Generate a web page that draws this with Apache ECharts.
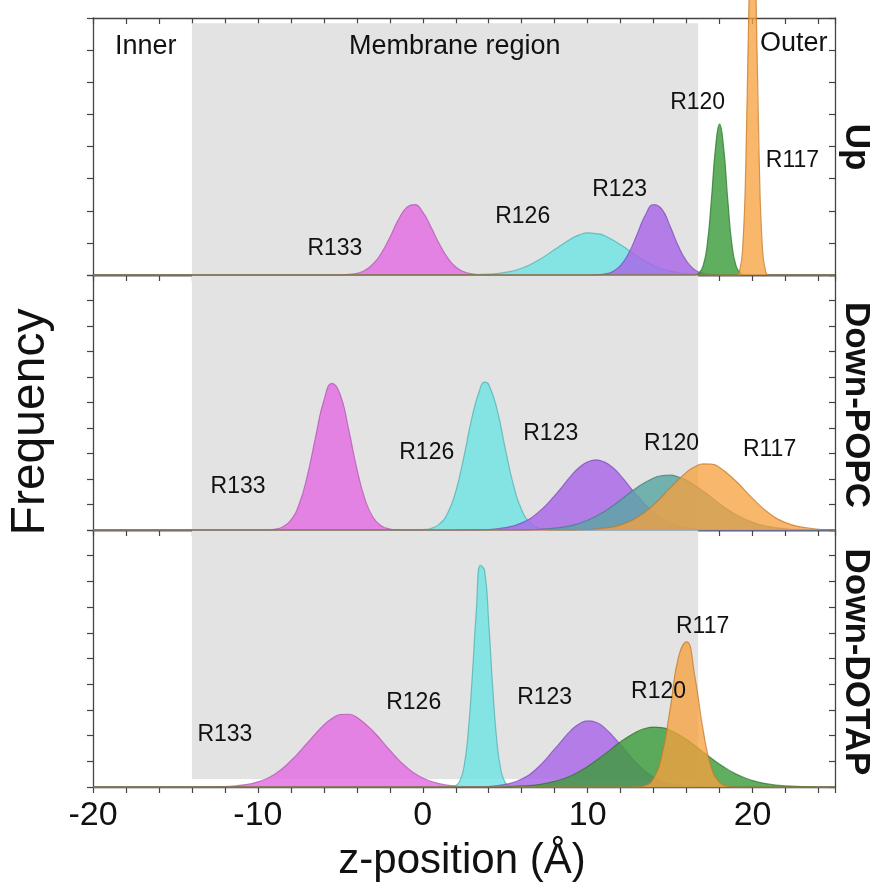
<!DOCTYPE html>
<html><head><meta charset="utf-8">
<script src="https://cdn.jsdelivr.net/npm/echarts@6/dist/echarts.min.js"></script>
<style>html,body{margin:0;padding:0;background:#fff}#c{width:870px;height:894px}</style>
</head><body><div id="c"></div>
<script>
// ---------- data ----------
const tickLabels = [-20, -10, 0, 10, 20];
const residues = ['R133', 'R126', 'R123', 'R120', 'R117'];
const panelNames = ['Up', 'Down-POPC', 'Down-DOTAP'];

// Up
const upR133 = [[-20,0],[-5,0],[-4.5,0.02],[-4,0.05],[-3.5,0.15],[-3,0.35],[-2.5,0.69],[-2,1.17],[-1.5,1.70],[-1,2.09],[-0.5,2.19],[0,1.96],[0.5,1.49],[1,0.97],[1.5,0.54],[2,0.25],[2.5,0.10],[3,0.035],[3.5,0.01],[4,0],[25,0]];
const upR126 = [[-20,0],[2,0],[3,0.006],[4,0.025],[5,0.08],[6,0.21],[7,0.46],[8,0.79],[9,1.13],[9.5,1.25],[10,1.31],[10.5,1.29],[11,1.23],[12,0.94],[13,0.58],[14,0.29],[15,0.12],[16,0.04],[17,0.01],[18,0],[25,0]];
const upR123 = [[-20,0],[10,0],[10.5,0.006],[11,0.03],[11.5,0.10],[12,0.30],[12.5,0.69],[13,1.27],[13.5,1.87],[14,2.19],[14.5,2.05],[15,1.52],[15.5,0.90],[16,0.43],[16.5,0.16],[17,0.05],[17.5,0.01],[18,0],[25,0]];
const upR120 = [[-20,0],[16.25,0],[16.5,0.008],[16.75,0.06],[17,0.28],[17.25,0.94],[17.5,2.32],[17.75,3.94],[18,4.70],[18.25,3.94],[18.5,2.32],[18.75,0.94],[19,0.28],[19.25,0.06],[19.5,0.008],[19.75,0],[25,0]];
const upR117 = [[-20,0],[19,0],[19.2,0.10],[19.4,0.83],[19.6,3.67],[19.8,8.93],[20,12],[20.2,8.93],[20.4,3.67],[20.6,0.83],[20.8,0.10],[21,0],[25,0]];

// Down-POPC
const popR133 = [[-20,0],[-10,0],[-9.5,0.006],[-9,0.03],[-8.5,0.12],[-8,0.39],[-7.5,1.01],[-7,2.13],[-6.5,3.65],[-6,5.08],[-5.5,5.75],[-5,5.30],[-4.5,3.96],[-4,2.41],[-3.5,1.20],[-3,0.48],[-2.5,0.16],[-2,0.04],[-1.5,0.01],[-1,0],[25,0]];
const popR126 = [[-20,0],[-1,0],[-0.5,0.003],[0,0.015],[0.5,0.06],[1,0.23],[1.5,0.65],[2,1.51],[2.5,2.89],[3,4.46],[3.5,5.59],[3.75,5.80],[4,5.71],[4.5,4.74],[5,3.20],[5.5,1.76],[6,0.78],[6.5,0.29],[7,0.08],[7.5,0.02],[8,0],[25,0]];
const popR123 = [[-20,0],[2,0],[3,0.005],[4,0.02],[5,0.09],[6,0.28],[7,0.69],[8,1.35],[9,2.13],[9.5,2.46],[10,2.67],[10.5,2.75],[11,2.67],[11.5,2.46],[12,2.13],[13,1.35],[14,0.69],[15,0.28],[16,0.09],[17,0.02],[18,0.005],[19,0],[25,0]];
const popR120 = [[-20,0],[5,0],[6,0.006],[7,0.02],[8,0.07],[9,0.17],[10,0.38],[11,0.72],[12,1.18],[13,1.67],[14,2.04],[14.5,2.13],[15,2.15],[15.5,2.08],[16,1.95],[17,1.53],[18,1.03],[19,0.60],[20,0.30],[21,0.13],[22,0.05],[23,0.016],[24,0],[25,0]];
const popR117 = [[-20,0],[8,0],[9,0.004],[10,0.02],[11,0.07],[12,0.20],[13,0.49],[14,0.99],[15,1.65],[16,2.27],[16.5,2.48],[17,2.59],[17.5,2.58],[18,2.45],[19,1.91],[20,1.24],[21,0.66],[22,0.29],[23,0.11],[24,0.03],[25,0.005]];

// Down-DOTAP
const dotR133 = [[-20,0],[-14,0],[-13,0.004],[-12,0.02],[-11,0.07],[-10,0.20],[-9,0.49],[-8,1.02],[-7,1.72],[-6,2.42],[-5.5,2.67],[-5,2.82],[-4.5,2.83],[-4,2.71],[-3,2.16],[-2,1.43],[-1,0.78],[0,0.35],[1,0.13],[2,0.04],[3,0.01],[4,0],[25,0]];
const dotR126 = [[-20,0],[1.5,0],[1.75,0.01],[2,0.05],[2.25,0.23],[2.5,0.78],[2.75,2.08],[3,4.29],[3.25,6.89],[3.5,8.62],[3.75,8.41],[4,6.39],[4.25,3.78],[4.5,1.74],[4.75,0.62],[5,0.17],[5.25,0.04],[5.5,0.006],[5.75,0],[25,0]];
const dotR123 = [[-20,0],[2,0],[3,0.005],[4,0.02],[5,0.10],[6,0.31],[7,0.77],[8,1.48],[9,2.21],[9.5,2.46],[10,2.57],[10.5,2.52],[11,2.32],[12,1.64],[13,0.90],[14,0.38],[15,0.13],[16,0.03],[17,0.007],[18,0],[25,0]];
const dotR120 = [[-20,0],[4,0],[5,0.01],[6,0.04],[7,0.09],[8,0.22],[9,0.44],[10,0.80],[11,1.26],[12,1.76],[13,2.16],[13.5,2.28],[14,2.33],[14.5,2.31],[15,2.21],[16,1.85],[17,1.36],[18,0.89],[19,0.50],[20,0.25],[21,0.11],[22,0.04],[23,0.015],[24,0],[25,0]];
const dotR117 = [[-20,0],[12.5,0],[13,0.008],[13.5,0.06],[14,0.34],[14.5,1.23],[15,3.03],[15.5,5.03],[16,5.65],[16.5,4.30],[17,2.22],[17.5,0.77],[18,0.18],[18.5,0.03],[19,0],[25,0]];

const membraneRange = [-14, 16.7];

// ---------- layout / style ----------
const FONT = '"Liberation Sans", Arial, Helvetica, sans-serif';
const TEXT = '#111111';
const FILL = {m: '#e46de4', c: '#6fe3e3', p: '#a865e8', g: '#3d9c3d', o: '#f7a03c', t: '#5aa6a3'};
const EDGE = {m: '#b255b2', c: '#52b0b0', p: '#7d4db5', g: '#2c762c', o: '#c47a2a', t: '#3f807d'};
const panels = [
  { data: [upR133, upR126, upR123, upR120, upR117], yMax: 8,
    keys: ['m', 'c', 'p', 'g', 'o'],
    band: [7.84, 0],
    labels: [[-5.33,0.81],[6.06,1.81],[11.94,2.65],[16.67,5.35],[22.42,3.55]] },
  { data: [popR133, popR126, popR123, popR120, popR117], yMax: 10,
    keys: ['m', 'c', 'p', 't', 'o'],
    band: [10, 0],
    labels: [[-11.2,1.69],[0.24,3.02],[7.76,3.76],[15.09,3.37],[21.03,3.14]] },
  { data: [dotR133, dotR126, dotR123, dotR120, dotR117], yMax: 10,
    keys: ['m', 'c', 'p', 'g', 'o'],
    band: [10, 0.31],
    labels: [[-12.0,2.02],[-0.55,3.27],[7.39,3.46],[14.3,3.70],[16.97,6.23]] }
];
const gridBoxes = [
  {left: 93, right: 35, top: 18, height: 257},
  {left: 93, right: 35, top: 275, height: 255},
  {left: 93, right: 35, top: 530, height: 257}
];
const axisLine = {show: true, onZero: false, lineStyle: {color: '#444', width: 1.3}};
const tickStyle = {color: '#444', width: 1.2};

const xAxes = [], yAxes = [], series = [];
panels.forEach((p, i) => {
  xAxes.push({gridIndex: i, type: 'value', min: -20, max: 25, interval: 2, position: 'bottom',
    axisLine, splitLine: {show: false},
    axisTick: {show: i === 2, length: 6, lineStyle: tickStyle},
    axisLabel: {show: i === 2, formatter: v => tickLabels.includes(v) ? String(v) : '',
      fontSize: 34, color: TEXT, margin: 12, fontFamily: FONT}});
  xAxes.push({gridIndex: i, type: 'value', min: -20, max: 25, interval: 2, position: 'top',
    axisLine, splitLine: {show: false},
    axisTick: {show: true, inside: true, length: 6, lineStyle: tickStyle},
    axisLabel: {show: false}});
  yAxes.push({gridIndex: i, type: 'value', min: 0, max: p.yMax, interval: 1, position: 'left',
    axisLine, splitLine: {show: false},
    axisTick: {show: true, length: 6, lineStyle: tickStyle}, axisLabel: {show: false}});
  yAxes.push({gridIndex: i, type: 'value', min: 0, max: p.yMax, interval: 1, position: 'right',
    axisLine, splitLine: {show: false},
    axisTick: {show: true, inside: true, length: 6, lineStyle: tickStyle}, axisLabel: {show: false}});

  p.data.forEach((d, k) => {
    const key = p.keys[k];
    const s = {
      type: 'line', name: panelNames[i] + ' ' + residues[k],
      xAxisIndex: 2 * i, yAxisIndex: 2 * i, data: d,
      smooth: 0.5, showSymbol: false, symbol: 'none',
      clip: false, silent: true, z: 2 + k * 0.01,
      lineStyle: {color: EDGE[key], width: 1.2, opacity: 0.75},
      areaStyle: {color: FILL[key], opacity: key === 'o' ? 0.76 : 0.82},
      animation: false
    };
    if (k === 0) {
      s.markArea = {silent: true, z: 1,
        itemStyle: {color: '#e3e3e3', opacity: 1},
        data: [[{coord: [membraneRange[0], p.band[0]]}, {coord: [membraneRange[1], p.band[1]]}]]};
    }
    series.push(s);
  });

  series.push({
    type: 'scatter', xAxisIndex: 2 * i, yAxisIndex: 2 * i, symbolSize: 1, silent: true, z: 10,
    itemStyle: {color: 'rgba(0,0,0,0)'},
    data: p.labels.map((c, k) => ({value: c, name: residues[k]})),
    label: {show: true, position: 'inside', formatter: '{b}', fontSize: 23, color: TEXT, opacity: 1,
      textBorderWidth: 0, fontFamily: FONT},
    animation: false
  });
});

// region names in top panel
series.push({
  type: 'scatter', xAxisIndex: 0, yAxisIndex: 0, symbolSize: 1, silent: true, z: 10,
  itemStyle: {color: 'rgba(0,0,0,0)'},
  data: [{value: [-16.8, 7.1], name: 'Inner'}, {value: [1.94, 7.1], name: 'Membrane region'}, {value: [22.5, 7.22], name: 'Outer'}],
  label: {show: true, position: 'inside', formatter: '{b}', fontSize: 27, color: TEXT, opacity: 1,
    textBorderWidth: 0, fontFamily: FONT},
  animation: false
});

const graphics = [
  {type: 'text', x: 31, y: 422, rotation: Math.PI / 2, z: 20,
   style: {text: 'Frequency', fontSize: 48, fontFamily: FONT, fill: TEXT, align: 'center', verticalAlign: 'middle'}},
  {type: 'text', x: 462, y: 861, z: 20,
   style: {text: 'z-position (Å)', fontSize: 42, fontFamily: FONT, fill: TEXT, align: 'center', verticalAlign: 'middle'}},
  {type: 'text', x: 856, y: 147, rotation: -Math.PI / 2, z: 20,
   style: {text: panelNames[0], fontSize: 35, fontWeight: 'bold', fontFamily: FONT, fill: TEXT, align: 'center', verticalAlign: 'middle'}},
  {type: 'text', x: 856, y: 405, rotation: -Math.PI / 2, z: 20,
   style: {text: panelNames[1], fontSize: 35, fontWeight: 'bold', fontFamily: FONT, fill: TEXT, align: 'center', verticalAlign: 'middle'}},
  {type: 'text', x: 856, y: 662, rotation: -Math.PI / 2, z: 20,
   style: {text: panelNames[2], fontSize: 35, fontWeight: 'bold', fontFamily: FONT, fill: TEXT, align: 'center', verticalAlign: 'middle'}}
];

const chart = echarts.init(document.getElementById('c'), null, {renderer: 'canvas'});
chart.setOption({
  backgroundColor: '#ffffff',
  animation: false,
  grid: gridBoxes,
  xAxis: xAxes,
  yAxis: yAxes,
  series: series,
  graphic: graphics
});
</script>
</body></html>
